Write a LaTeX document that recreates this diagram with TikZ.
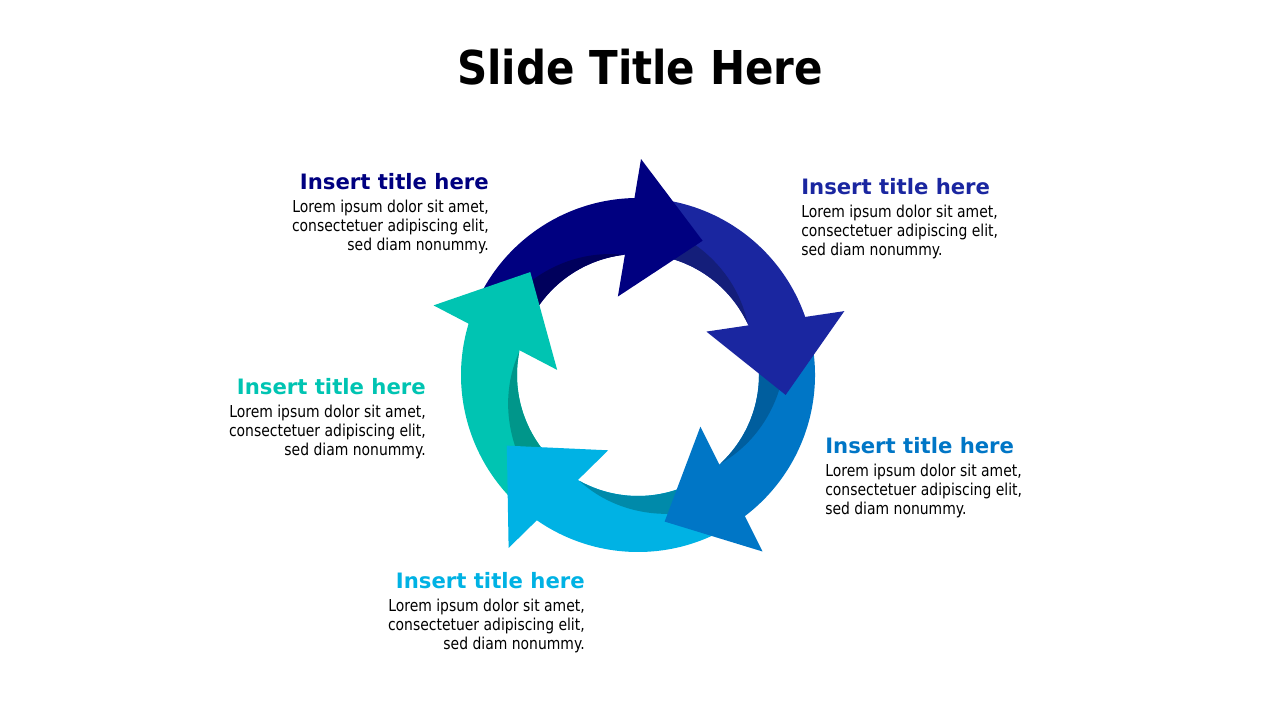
\documentclass[tikz,border=0pt]{standalone}
\usepackage{fontspec}
\setmainfont{DejaVu Sans}
\newfontfamily\slidefont[FakeStretch=0.9]{DejaVu Sans}
\newfontfamily\loremfont[FakeStretch=0.85]{DejaVu Sans}
\usepackage{xcolor}
\usepackage{tikz}
\usetikzlibrary{positioning}

\definecolor{arrA}{RGB}{0,0,128}
\definecolor{arrB}{RGB}{26,38,160}
\definecolor{arrC}{RGB}{0,118,198}
\definecolor{arrD}{RGB}{0,178,228}
\definecolor{arrE}{RGB}{0,196,178}
\definecolor{shdA}{RGB}{0,0,92}
\definecolor{shdB}{RGB}{20,30,122}
\definecolor{shdC}{RGB}{0,94,158}
\definecolor{shdD}{RGB}{0,138,170}
\definecolor{shdE}{RGB}{0,150,138}

\begin{document}
\begin{tikzpicture}[
            x=0.75pt, y=0.75pt,
            sub/.style={font=\bfseries\fontsize{15.9}{18}\selectfont, inner sep=0pt},
            lorem/.style={font=\loremfont\fontsize{12.3}{14.25}\selectfont, inner sep=0pt}
        ]
        \useasboundingbox[fill=white] (0,0) rectangle (1280,720);

        \node[font=\slidefont\bfseries\fontsize{35}{40}\selectfont, anchor=base] (slidetitle) at (640,635) {Slide Title Here};

        % ring of arrows
        \begin{scope}[shift={(638,345)}]
            \foreach \r/\col in {0/arrA,-72/arrB,-144/arrC,-216/arrD,-288/arrE}{
                \fill[\col, rotate=\r] (156:177) arc[start angle=156, end angle=90, radius=177]
                    -- (90:121) arc[start angle=90, end angle=156, radius=121] -- cycle;
            }
            \foreach \r/\col in {0/shdA,-72/shdB,-144/shdC,-216/shdD,-288/shdE}{
                \fill[\col, rotate=\r] plot[domain=97:156, samples=40] (\x:{121+0.512*(\x-97)})
                    -- (156:121) arc[start angle=156, end angle=97, radius=121] -- cycle;
            }
            \foreach \r/\col in {0/arrA,-72/arrB,-144/arrC,-216/arrD,-288/arrE}{
                \fill[\col, rotate=\r] (89.2:216) -- (64.3:149) -- (104.4:81) -- cycle;
            }
        \end{scope}

        % texts
        \node[sub, text=arrA, anchor=base east] (headA) at (489,530) {Insert title here};
        \node[lorem, align=right, below left=7pt and 0pt of headA.base east] (textA) {Lorem ipsum dolor sit amet,\\consectetuer adipiscing elit,\\sed diam nonummy.};

        \node[sub, text=arrB, anchor=base west] (headB) at (801,525) {Insert title here};
        \node[lorem, align=left, below right=7pt and 0pt of headB.base west] (textB) {Lorem ipsum dolor sit amet,\\consectetuer adipiscing elit,\\sed diam nonummy.};

        \node[sub, text=arrC, anchor=base west] (headC) at (825,266) {Insert title here};
        \node[lorem, align=left, below right=7pt and 0pt of headC.base west] (textC) {Lorem ipsum dolor sit amet,\\consectetuer adipiscing elit,\\sed diam nonummy.};

        \node[sub, text=arrD, anchor=base east] (headD) at (585,131) {Insert title here};
        \node[lorem, align=right, below left=7pt and 0pt of headD.base east] (textD) {Lorem ipsum dolor sit amet,\\consectetuer adipiscing elit,\\sed diam nonummy.};

        \node[sub, text=arrE, anchor=base east] (headE) at (426,325) {Insert title here};
        \node[lorem, align=right, below left=7pt and 0pt of headE.base east] (textE) {Lorem ipsum dolor sit amet,\\consectetuer adipiscing elit,\\sed diam nonummy.};
\end{tikzpicture}
\end{document}
